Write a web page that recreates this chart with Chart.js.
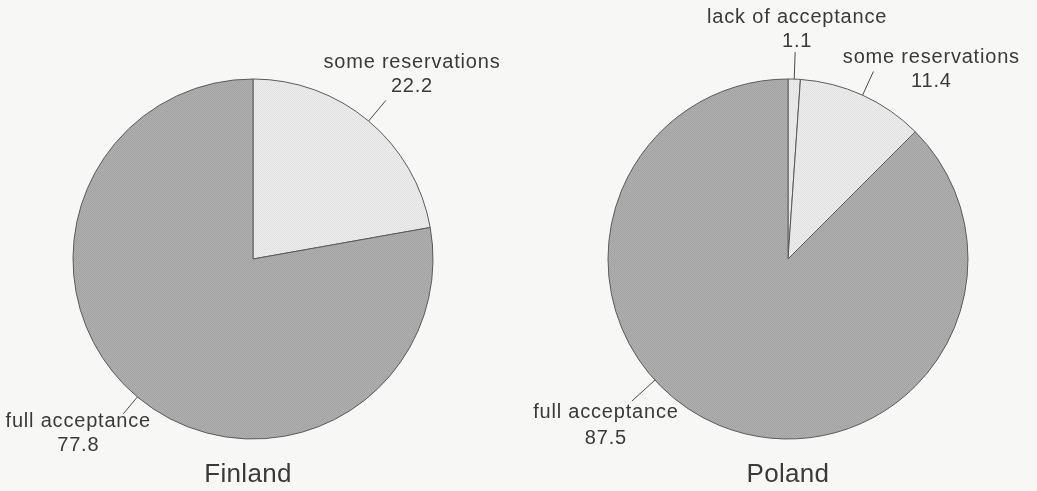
<!DOCTYPE html>
<html>
<head>
<meta charset="utf-8">
<script src="https://cdn.jsdelivr.net/npm/chart.js@4/dist/chart.umd.min.js"></script>
<style>
  html, body { margin: 0; padding: 0; background: #f7f7f5; }
  #wrap { position: relative; width: 1037px; height: 491px; overflow: hidden; }
  .pane { position: absolute; top: 0; height: 491px; }
</style>
</head>
<body>
<div id="wrap">
  <div class="pane" style="left:0;width:520px"><canvas id="finland"></canvas></div>
  <div class="pane" style="left:520px;width:517px"><canvas id="poland"></canvas></div>
</div>
<script>
// Attitude shares (%) by country
const finlandCategories = ['some reservations', 'full acceptance'];
const finlandValues = [22.2, 77.8];
const polandCategories = ['lack of acceptance', 'some reservations', 'full acceptance'];
const polandValues = [1.1, 11.4, 87.5];
const countryNames = ['Finland', 'Poland'];

// Fine dot screen used as slice fill
function screenFill(a, b) {
  const c = document.createElement('canvas');
  c.width = 2; c.height = 2;
  const g = c.getContext('2d');
  g.fillStyle = a; g.fillRect(0, 0, 2, 2);
  g.fillStyle = b; g.fillRect(0, 0, 1, 1); g.fillRect(1, 1, 1, 1);
  return g.createPattern(c, 'repeat');
}
const darkFill = screenFill('#b0b0b0', '#a2a2a2');
const lightFill = screenFill('#ebebeb', '#e3e3e3');
const fillFor = name => name === 'full acceptance' ? darkFill : lightFill;

const FONT = '"Liberation Sans", Arial, Helvetica, sans-serif';
const INK = '#3a3a3a';

// Leader lines and category/value labels, plus the country caption
const calloutPlugin = {
  id: 'callouts',
  afterDatasetsDraw(chart, args, opts) {
    const ctx = chart.ctx;
    const meta = chart.getDatasetMeta(0);
    const labels = chart.data.labels;
    const values = chart.data.datasets[0].data;
    ctx.save();
    ctx.strokeStyle = '#4a4a4a';
    ctx.lineWidth = 1;
    ctx.fillStyle = INK;
    ctx.textAlign = 'center';
    ctx.textBaseline = 'alphabetic';
    ctx.font = '20px ' + FONT;
    if ('letterSpacing' in ctx) ctx.letterSpacing = '0.8px';
    meta.data.forEach((arc, i) => {
      const c = opts.callouts[i];
      const p = arc.getProps(['x', 'y', 'startAngle', 'endAngle', 'outerRadius'], true);
      const a = p.startAngle + (p.endAngle - p.startAngle) * c.at;
      const x0 = p.x + Math.cos(a) * p.outerRadius;
      const y0 = p.y + Math.sin(a) * p.outerRadius;
      const x1 = p.x + Math.cos(a) * (p.outerRadius + c.len);
      const y1 = p.y + Math.sin(a) * (p.outerRadius + c.len);
      ctx.beginPath();
      ctx.moveTo(x0, y0);
      ctx.lineTo(x1, y1);
      ctx.stroke();
      const tx = x1 + c.dx, ty = y1 + c.dy;
      ctx.fillText(labels[i], tx, ty);
      ctx.fillText(values[i].toFixed(1), tx, ty + c.gap);
    });
    // caption under the pie
    ctx.font = '26px ' + FONT;
    if ('letterSpacing' in ctx) ctx.letterSpacing = '0.3px';
    ctx.fillText(opts.caption, meta.data[0].x + opts.captionDx, opts.captionY);
    ctx.restore();
  }
};

function makePie(id, caption, captionDx, categories, values, padding, callouts) {
  return new Chart(document.getElementById(id), {
    type: 'pie',
    data: {
      labels: categories,
      datasets: [{
        data: values,
        backgroundColor: categories.map(fillFor),
        borderColor: '#5a5a5a',
        borderWidth: 1,
        hoverOffset: 0,
        offset: 0
      }]
    },
    options: {
      responsive: true,
      maintainAspectRatio: false,
      animation: false,
      events: [],
      radius: 180,
      rotation: 0,
      layout: { padding },
      plugins: {
        legend: { display: false },
        tooltip: { enabled: false },
        callouts: { caption, captionDx, captionY: 482, callouts }
      }
    },
    plugins: [calloutPlugin]
  });
}

makePie('finland', countryNames[0], -5, finlandCategories, finlandValues,
  { left: 53, right: 67, top: 59, bottom: 32 },
  [
    { at: 0.5, len: 27, dx: 26, dy: -32, gap: 24 },
    { at: 0.5, len: 22, dx: -45, dy: 13, gap: 24 }
  ]);

makePie('poland', countryNames[1], 0, polandCategories, polandValues,
  { left: 68, right: 49, top: 59, bottom: 32 },
  [
    { at: 0.5, len: 27, dx: 2, dy: -29, gap: 24 },
    { at: 0.5, len: 26, dx: 58, dy: -9, gap: 24 },
    { at: 0.58, len: 31, dx: -26, dy: 17, gap: 26 }
  ]);
</script>
</body>
</html>
